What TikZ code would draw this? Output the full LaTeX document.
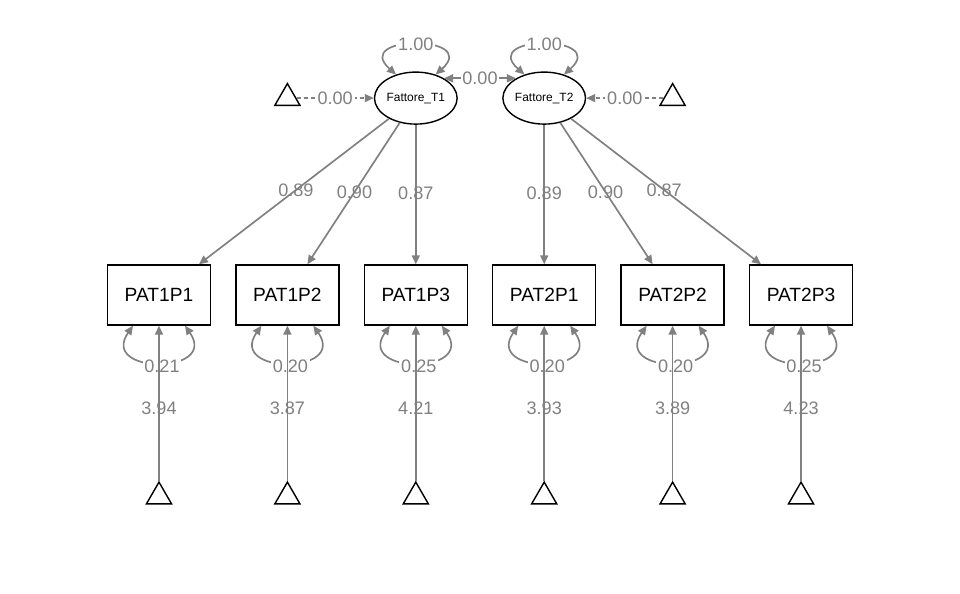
\documentclass[tikz,border=0pt]{standalone}
\usepackage{fontspec}
\setmainfont{Liberation Sans}
\usetikzlibrary{positioning,shapes.geometric,arrows.meta}

\tikzset{
  latent/.style={ellipse, draw, line width=0.8pt, minimum width=1.64cm,
    minimum height=1.04cm, inner sep=0pt, font=\fontsize{6.8}{8}\selectfont},
  obs/.style={rectangle, draw, line width=0.8pt, minimum width=2.06cm,
    minimum height=1.2cm, font=\fontsize{10.9}{12}\selectfont},
  const/.style={regular polygon, regular polygon sides=3, draw,
    line width=0.8pt, minimum size=0.58cm, inner sep=0pt},
  loadedge/.style={draw=gray, line width=0.95pt, ->},
  coveredge/.style={draw=gray, line width=0.95pt, <->},
  meanedge/.style={loadedge, dash pattern=on 0.08cm off 0.06cm},
  est/.style={text=gray, font=\fontsize{10.3}{12}\selectfont, inner sep=1pt},
  estbg/.style={est, fill=white},
}

\begin{document}
\begin{tikzpicture}[>={Triangle[length=1.8mm,width=1.6mm]}]

  \useasboundingbox (0,0) rectangle (19.2,-11.86);

  % Layout the indicators
  \matrix[column sep=0.48cm] (ind) at (9.6,-5.9)
  { %
    \node[obs] (P11) {PAT1P1} ; & %
    \node[obs] (P12) {PAT1P2} ; & %
    \node[obs] (P13) {PAT1P3} ; & %
    \node[obs] (P21) {PAT2P1} ; & %
    \node[obs] (P22) {PAT2P2} ; & %
    \node[obs] (P23) {PAT2P3} ; %
    \\
  };

  % Factors
  \node[latent, above=2.79cm of P13] (T1) {Fattore\_T1} ; %
  \node[latent, above=2.79cm of P21] (T2) {Fattore\_T2} ; %

  % Intercepts
  \node[const] (m1) at (P12 |- T1) {} ; %
  \node[const] (m2) at (P22 |- T2) {} ; %
  \node[const, below=3.1cm of P11] (i11) {} ; %
  \node[const, below=3.1cm of P12] (i12) {} ; %
  \node[const, below=3.1cm of P13] (i13) {} ; %
  \node[const, below=3.1cm of P21] (i21) {} ; %
  \node[const, below=3.1cm of P22] (i22) {} ; %
  \node[const, below=3.1cm of P23] (i23) {} ; %

  % Factor variances and covariance
  \draw[coveredge] (T1.130) .. controls +(-0.9,0.8) and +(0.9,0.8) .. (T1.50)
    node[estbg, pos=0.5] {1.00} ; %
  \draw[coveredge] (T2.130) .. controls +(-0.9,0.8) and +(0.9,0.8) .. (T2.50)
    node[estbg, pos=0.5] {1.00} ; %
  \draw[coveredge] (T1.35) -- (T2.145) node[estbg, midway] {0.00} ; %

  % Factor means
  \draw[meanedge] (m1) -- (T1) node[estbg, midway] {0.00} ; %
  \draw[meanedge] (m2) -- (T2) node[estbg, midway] {0.00} ; %

  % Loadings
  \draw[loadedge] (T1) -- (P11) node[est, pos=0.49] {0.89} ; %
  \draw[loadedge] (T1) -- (P12) node[est, pos=0.49] {0.90} ; %
  \draw[loadedge] (T1) -- (P13) node[est, pos=0.49] {0.87} ; %
  \draw[loadedge] (T2) -- (P21) node[est, pos=0.49] {0.89} ; %
  \draw[loadedge] (T2) -- (P22) node[est, pos=0.49] {0.90} ; %
  \draw[loadedge] (T2) -- (P23) node[est, pos=0.49] {0.87} ; %

  % Residual variances
  \draw[coveredge] ([xshift=-0.52cm]P11.south) .. controls +(-0.68,-0.98)
    and +(0.68,-0.98) .. ([xshift=0.52cm]P11.south)
    node[estbg, pos=0.5, yshift=-0.08cm, xshift=0.06cm] {0.21} ; %
  \draw[coveredge] ([xshift=-0.52cm]P12.south) .. controls +(-0.68,-0.98)
    and +(0.68,-0.98) .. ([xshift=0.52cm]P12.south)
    node[estbg, pos=0.5, yshift=-0.08cm, xshift=0.06cm] {0.20} ; %
  \draw[coveredge] ([xshift=-0.52cm]P13.south) .. controls +(-0.68,-0.98)
    and +(0.68,-0.98) .. ([xshift=0.52cm]P13.south)
    node[estbg, pos=0.5, yshift=-0.08cm, xshift=0.06cm] {0.25} ; %
  \draw[coveredge] ([xshift=-0.52cm]P21.south) .. controls +(-0.68,-0.98)
    and +(0.68,-0.98) .. ([xshift=0.52cm]P21.south)
    node[estbg, pos=0.5, yshift=-0.08cm, xshift=0.06cm] {0.20} ; %
  \draw[coveredge] ([xshift=-0.52cm]P22.south) .. controls +(-0.68,-0.98)
    and +(0.68,-0.98) .. ([xshift=0.52cm]P22.south)
    node[estbg, pos=0.5, yshift=-0.08cm, xshift=0.06cm] {0.20} ; %
  \draw[coveredge] ([xshift=-0.52cm]P23.south) .. controls +(-0.68,-0.98)
    and +(0.68,-0.98) .. ([xshift=0.52cm]P23.south)
    node[estbg, pos=0.5, yshift=-0.08cm, xshift=0.06cm] {0.25} ; %

  % Indicator intercepts
  \draw[loadedge] (i11) -- (P11) node[est, pos=0.465] {3.94} ; %
  \draw[loadedge] (i12) -- (P12) node[est, pos=0.465] {3.87} ; %
  \draw[loadedge] (i13) -- (P13) node[est, pos=0.465] {4.21} ; %
  \draw[loadedge] (i21) -- (P21) node[est, pos=0.465] {3.93} ; %
  \draw[loadedge] (i22) -- (P22) node[est, pos=0.465] {3.89} ; %
  \draw[loadedge] (i23) -- (P23) node[est, pos=0.465] {4.23} ; %

\end{tikzpicture}
\end{document}
